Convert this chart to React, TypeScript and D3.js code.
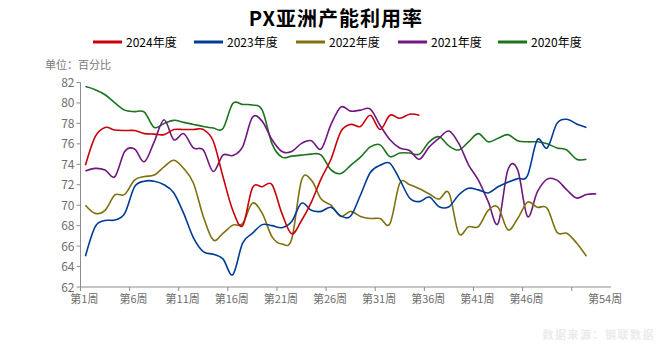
import React from "react";
import * as d3 from "d3";

const weeks: number[] = d3.range(1, 55);
const tickLabelWeeks: number[] = [1, 6, 11, 16, 21, 26, 31, 36, 41, 46, 54];
const yTicks: number[] = [62, 64, 66, 68, 70, 72, 74, 76, 78, 80, 82];

const s2024: number[] = [73.9, 76.7, 77.6, 77.35, 77.3, 77.3, 77.0, 76.95, 76.9, 77.4, 77.4, 77.4, 77.4, 76.3, 72.8, 69.5, 68.0, 71.7, 71.8, 72.0, 69.2, 67.2, 68.5, 70.3, 72.6, 74.5, 77.2, 77.9, 77.7, 78.8, 77.4, 78.8, 78.5, 78.9, 78.8];
const s2023: number[] = [65.0, 67.9, 68.5, 68.55, 69.2, 71.8, 72.35, 72.35, 72.0, 71.2, 69.2, 66.8, 65.45, 65.2, 64.75, 63.2, 66.3, 67.25, 68.1, 68.0, 67.8, 68.4, 70.2, 69.5, 69.4, 69.8, 68.95, 68.95, 71.0, 73.2, 73.9, 74.1, 72.5, 70.7, 70.35, 70.8, 69.85, 69.85, 71.0, 71.65, 71.5, 71.2, 71.8, 72.25, 72.6, 72.9, 76.4, 75.6, 78.0, 78.4, 77.95, 77.6];
const s2022: number[] = [70.0, 69.2, 69.5, 71.0, 71.05, 72.45, 72.8, 72.95, 73.75, 74.4, 73.6, 72.15, 68.9, 66.6, 67.25, 68.05, 68.2, 70.2, 69.2, 66.9, 66.2, 66.7, 72.45, 72.45, 70.6, 70.0, 68.9, 69.4, 68.9, 68.7, 68.7, 68.2, 72.15, 72.0, 71.6, 71.1, 70.6, 71.2, 67.25, 67.9, 67.9, 69.5, 69.8, 67.6, 68.7, 70.3, 69.8, 69.7, 67.35, 67.25, 66.3, 65.0];
const s2021: number[] = [73.35, 73.6, 73.45, 72.8, 75.25, 75.5, 74.25, 76.2, 78.35, 76.4, 77.0, 75.6, 75.4, 73.3, 74.9, 74.85, 75.7, 78.6, 78.2, 76.4, 75.25, 75.25, 76.05, 76.3, 75.5, 77.9, 79.6, 79.2, 79.3, 79.4, 77.8, 76.4, 75.6, 75.35, 74.5, 75.7, 76.55, 77.25, 76.05, 73.95, 72.45, 70.35, 68.2, 73.45, 73.45, 68.9, 71.3, 72.55, 72.45, 71.5, 70.7, 71.05, 71.1];
const s2020: number[] = [81.6, 81.3, 80.8, 80.0, 79.3, 79.15, 79.1, 77.6, 78.0, 78.3, 78.1, 77.9, 77.7, 77.55, 77.5, 79.95, 79.85, 79.8, 79.3, 76.0, 74.7, 74.8, 74.9, 75.0, 74.9, 73.45, 73.1, 73.9, 74.7, 75.7, 75.9, 74.75, 75.1, 75.1, 75.0, 76.2, 76.7, 75.8, 75.4, 76.2, 77.0, 76.2, 76.55, 76.9, 76.3, 76.2, 76.2, 76.0, 75.6, 75.4, 74.5, 74.5];

const seriesNames: string[] = ["2024年度", "2023年度", "2022年度", "2021年度", "2020年度"];
const seriesData: number[][] = [s2024, s2023, s2022, s2021, s2020];
const seriesColors: string[] = ["#c8000a", "#003c96", "#807010", "#70187f", "#1e731e"];

const W = 672;
const H = 352;
const left = 80.5;
const right = 611;
const top = 82.5;
const bottom = 287;
const font = "'Noto Sans CJK SC', 'Noto Sans', sans-serif";

export default function App() {
  const x = d3.scaleBand<number>().domain(weeks).range([left, right]);
  const xc = (w: number) => (x(w) as number) + x.bandwidth() / 2;
  const y = d3.scaleLinear().domain([62, 82]).range([bottom, top]);
  const line = d3
    .line<number>()
    .x((_, i) => xc(i + 1))
    .y((d) => y(d))
    .curve(d3.curveCardinal.tension(0));

  const tickBoundaries = d3.range(0, 51, 5).map((k) => left + k * x.step());
  const axisColor = "#8c8c8c";
  const labelColor = "#6e6e6e";
  const legendX = [93, 194, 296, 398, 498];

  const drawOrder = [4, 3, 2, 1, 0];

  return (
    <svg width={W} height={H} style={{ position: "absolute", left: 0, top: 0, background: "#fff" }}>
      <text x={336} y={26} textAnchor="middle" fontFamily={font} fontWeight="bold" fontSize={20} letterSpacing={1} fill="#000">
        PX亚洲产能利用率
      </text>
      {seriesNames.map((n, i) => (
        <g key={n}>
          <line x1={legendX[i]} x2={legendX[i] + 29} y1={42} y2={42} stroke={seriesColors[i]} strokeWidth={3} />
          <text x={legendX[i] + 33} y={46.5} fontFamily={font} fontSize={12} fill="#000">
            {n}
          </text>
        </g>
      ))}
      <text x={45} y={69} fontFamily={font} fontSize={11} fill="#7a7a7a">
        单位：百分比
      </text>
      {/* y axis */}
      <line x1={left} x2={left} y1={top} y2={bottom} stroke={axisColor} strokeWidth={1} />
      {yTicks.map((t) => (
        <g key={t}>
          <line x1={left - 4} x2={left} y1={y(t)} y2={y(t)} stroke={axisColor} />
          <text x={left - 6} y={y(t) + 4.5} textAnchor="end" fontFamily={font} fontSize={12} fill={labelColor}>
            {t}
          </text>
        </g>
      ))}
      {/* x axis */}
      <line x1={left} x2={right} y1={bottom} y2={bottom} stroke={axisColor} strokeWidth={1} />
      {tickBoundaries.map((bx, i) => (
        <line key={i} x1={bx} x2={bx} y1={bottom} y2={bottom + 4} stroke={axisColor} />
      ))}
      {tickLabelWeeks.map((w) => (
        <text key={w} x={xc(w) - 1} y={303} textAnchor="middle" fontFamily={font} fontSize={11} fill={labelColor}>
          {`第${w}周`}
        </text>
      ))}
      {drawOrder.map((i) => (
        <path key={seriesNames[i]} d={line(seriesData[i]) || ""} fill="none" stroke={seriesColors[i]} strokeWidth={1.6} strokeLinejoin="round" />
      ))}
      <text x={655} y={339} textAnchor="end" fontFamily={font} fontSize={11} fontWeight="bold" letterSpacing={1.5} fill="#ececec">
        数据来源：钢联数据
      </text>
    </svg>
  );
}
